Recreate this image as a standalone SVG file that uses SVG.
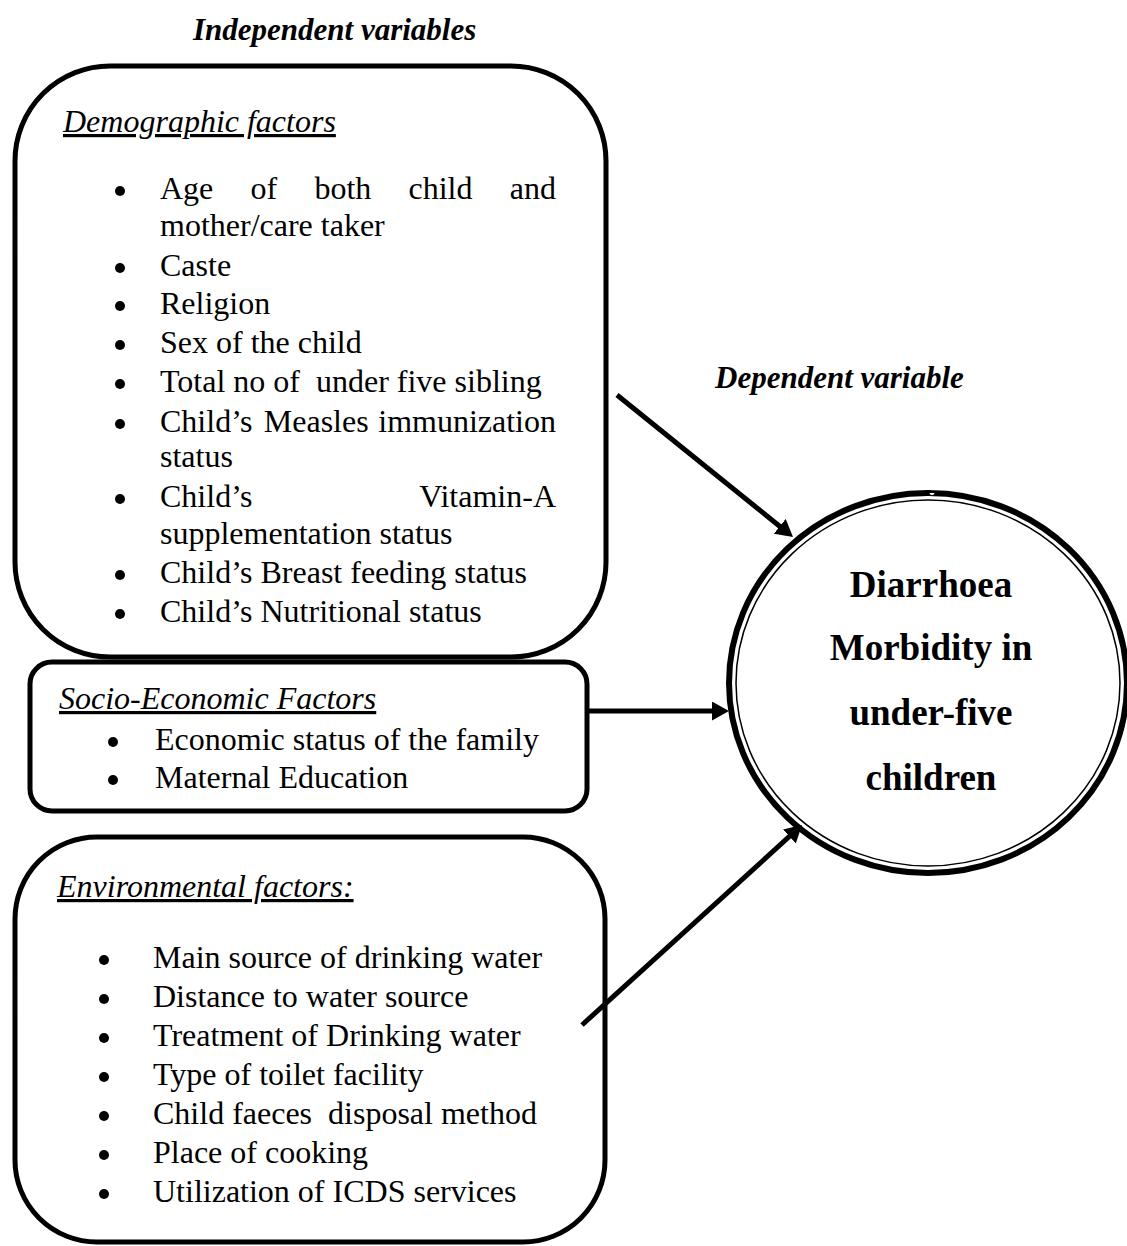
<svg xmlns="http://www.w3.org/2000/svg" width="1127" height="1246" viewBox="0 0 1127 1246">
<style>
.box{fill:#fff;stroke:#000;stroke-width:5}
.t{font-family:"Liberation Serif","Times New Roman",serif;font-size:32px;fill:#000}
.h{font-style:italic;text-decoration:underline}
.title{font-weight:bold;font-style:italic;font-size:31px}
.c{font-weight:bold;font-size:37px;text-anchor:middle}
.conn{stroke:#000;stroke-width:5;fill:none;marker-end:url(#ah)}
.b{fill:#000}
</style>
<defs>
<marker id="ah" viewBox="0 0 17 19" markerWidth="17" markerHeight="19" markerUnits="userSpaceOnUse" refX="7" refY="9.5" orient="auto">
<path d="M0,0 L17,9.5 L0,19 z" fill="#000"/>
</marker>
</defs>
<rect width="1127" height="1246" fill="#fff"/>

<text class="t title" x="193" y="40">Independent variables</text>
<text class="t title" x="715" y="388">Dependent variable</text>

<g id="demographic">
<rect class="box" x="15" y="66" width="591" height="591" rx="95" ry="95"/>
<text class="t h" x="63" y="132">Demographic factors</text>
<g class="b">
<circle cx="120" cy="191" r="5"/><circle cx="120" cy="268" r="5"/><circle cx="120" cy="306" r="5"/>
<circle cx="120" cy="345" r="5"/><circle cx="120" cy="384" r="5"/><circle cx="120" cy="424" r="5"/>
<circle cx="120" cy="499" r="5"/><circle cx="120" cy="575" r="5"/><circle cx="120" cy="614" r="5"/>
</g>
<text class="t" y="199"><tspan x="160">Age</tspan><tspan x="250.5">of</tspan><tspan x="314.4">both</tspan><tspan x="408.5">child</tspan><tspan x="556" text-anchor="end">and</tspan></text>
<text class="t" x="160" y="236">mother/care taker</text>
<text class="t" x="160" y="276">Caste</text>
<text class="t" x="160" y="314">Religion</text>
<text class="t" x="160" y="353">Sex of the child</text>
<text class="t" x="160" y="392" xml:space="preserve">Total no of  under five sibling</text>
<text class="t" y="432"><tspan x="160">Child’s</tspan><tspan x="263.8">Measles</tspan><tspan x="556" text-anchor="end">immunization</tspan></text>
<text class="t" x="160" y="467">status</text>
<text class="t" y="507"><tspan x="160">Child’s</tspan><tspan x="556" text-anchor="end">Vitamin-A</tspan></text>
<text class="t" x="160" y="544">supplementation status</text>
<text class="t" x="160" y="583">Child’s Breast feeding status</text>
<text class="t" x="160" y="622">Child’s Nutritional status</text>
</g>

<g id="socioeconomic">
<rect class="box" x="30" y="662" width="557" height="149" rx="22" ry="22"/>
<text class="t h" x="59" y="709">Socio-Economic Factors</text>
<circle class="b" cx="113" cy="742" r="5"/>
<circle class="b" cx="113" cy="780" r="5"/>
<text class="t" x="155" y="750">Economic status of the family</text>
<text class="t" x="155" y="788">Maternal Education</text>
</g>

<g id="environmental">
<rect class="box" x="15" y="837" width="590" height="405" rx="82" ry="82"/>
<text class="t h" x="57" y="897">Environmental factors:</text>
<g class="b">
<circle cx="104" cy="960" r="5"/><circle cx="104" cy="999" r="5"/><circle cx="104" cy="1038" r="5"/>
<circle cx="104" cy="1077" r="5"/><circle cx="104" cy="1116" r="5"/><circle cx="104" cy="1155" r="5"/>
<circle cx="104" cy="1194" r="5"/>
</g>
<text class="t" x="153" y="968">Main source of drinking water</text>
<text class="t" x="153" y="1007">Distance to water source</text>
<text class="t" x="153" y="1046">Treatment of Drinking water</text>
<text class="t" x="153" y="1085">Type of toilet facility</text>
<text class="t" x="153" y="1124" xml:space="preserve">Child faeces  disposal method</text>
<text class="t" x="153" y="1163">Place of cooking</text>
<text class="t" x="153" y="1202">Utilization of ICDS services</text>
</g>

<g id="outcome">
<ellipse cx="928" cy="683" rx="199" ry="190" fill="#fff" stroke="#000" stroke-width="6"/>
<ellipse cx="928" cy="683" rx="192" ry="183" fill="none" stroke="#000" stroke-width="1.5"/>
<path d="M929,493 a3,2.5 0 0 0 6,0" fill="#fff" stroke="#000" stroke-width="1"/>
<text class="t c" x="931" y="597">Diarrhoea</text>
<text class="t c" x="931" y="660">Morbidity in</text>
<text class="t c" x="931" y="725">under-five</text>
<text class="t c" x="931" y="790">children</text>
</g>

<g id="connectors">
<line class="conn" x1="617" y1="395" x2="785.2" y2="530.7"/>
<line class="conn" x1="587" y1="711" x2="719" y2="711"/>
<line class="conn" x1="582" y1="1025" x2="794.6" y2="831.7"/>
</g>
</svg>
